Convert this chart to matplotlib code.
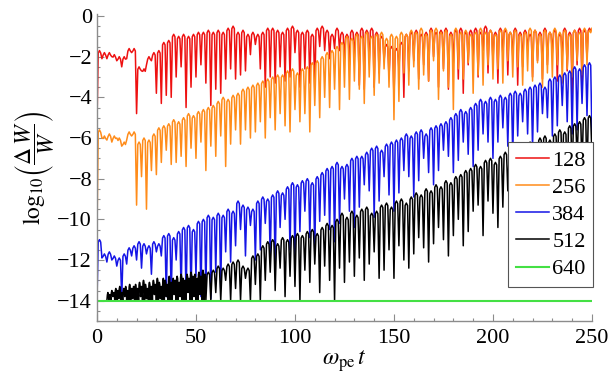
import numpy as np
import matplotlib
matplotlib.use("Agg")
import matplotlib.pyplot as plt

plt.rcParams['font.family'] = ['Liberation Serif', 'DejaVu Serif']
plt.rcParams['mathtext.fontset'] = 'stix'

## arch grid: each series is read as one top and one dip per 2.5 time units
dt = 2.5
labels = ['128', '256', '384', '512', '640']
colors = ['#ee1111', '#ff8c1a', '#1515e6', '#000000', '#44e044']

red_start = -5.3
red_top = [-1.7, -1.8, -1.8, -1.9, -2.0, -2.0, -1.6, -1.6, -2.5, -2.6,
           -2.0, -1.8, -1.7, -1.3, -1.2, -0.9, -1.0, -0.9, -1.0, -0.9,
           -0.8, -0.8, -0.7, -0.8, -0.7, -0.8, -0.6, -0.5, -0.8, -0.7,
           -0.9, -0.8, -0.9, -0.8, -0.6, -0.6, -0.7, -0.8, -0.6, -0.5,
           -0.7, -0.8, -0.7, -0.9, -0.6, -0.5, -0.7, -0.9, -0.6, -0.8,
           -0.9, -0.7, -0.8, -0.6, -0.7, -0.6, -0.8, -1.0, -1.4, -1.5,
           -1.6, -1.3, -0.9, -0.8, -0.7, -0.9, -0.8, -0.6, -0.8, -0.7,
           -0.6, -0.8, -0.7, -0.6, -0.8, -0.7, -0.6, -0.8, -0.5, -0.7,
           -0.8, -0.6, -0.7, -0.8, -0.6, -0.8, -0.7, -0.9, -0.7, -0.8,
           -0.6, -0.8, -0.7, -0.9, -0.6, -0.8, -0.7, -0.6, -0.7, -0.6]
red_dip = [-2.1, -2.1, -2.0, -2.2, -2.5, -2.1, -1.8, -4.8, -2.7, -2.4,
           -2.2, -3.8, -4.3, -3.9, -4.0, -3.0, -2.5, -4.5, -3.5, -3.0,
           -2.4, -3.3, -4.4, -3.6, -3.8, -3.1, -2.6, -3.1, -2.9, -2.7,
           -1.9, -1.4, -2.6, -3.5, -3.0, -3.3, -2.5, -3.2, -3.0, -1.8,
           -3.5, -2.6, -3.3, -3.6, -1.5, -1.7, -2.1, -1.6, -1.7, -2.1,
           -2.4, -2.0, -3.4, -3.6, -2.3, -3.5, -2.8, -2.2, -3.0, -4.0,
           -2.6, -4.0, -2.7, -2.2, -3.1, -2.4, -3.2, -2.0, -3.5, -2.6,
           -3.6, -2.3, -3.1, -3.8, -2.4, -2.0, -3.0, -1.7, -2.8, -2.2,
           -3.3, -1.9, -2.9, -2.0, -3.4, -2.5, -1.6, -3.0, -2.2, -3.1,
           -2.4, -1.8, -3.2, -2.0, -2.7, -3.8, -2.4, -3.6, -2.1, -0.7]

orange_start = -10.7
orange_top = [-5.6, -5.9, -5.8, -5.9, -6.0, -6.2, -5.7, -5.7, -6.2, -6.0,
              -6.1, -5.8, -5.5, -5.4, -5.3, -5.1, -5.2, -5.0, -4.8, -4.9,
              -4.7, -4.6, -4.5, -4.4, -4.2, -4.0, -4.1, -3.9, -3.8, -3.6,
              -3.5, -3.4, -3.3, -3.2, -3.1, -3.0, -2.9, -2.9, -2.7, -2.6,
              -2.8, -2.6, -2.5, -2.3, -2.2, -2.0, -1.8, -1.7, -1.5, -1.3,
              -1.0, -1.1, -0.9, -1.0, -0.8, -1.0, -0.9, -0.8, -1.1, -0.9,
              -1.0, -0.8, -0.9, -0.7, -0.8, -0.6, -0.9, -0.7, -0.6, -0.8,
              -0.7, -0.9, -0.6, -0.8, -0.7, -0.9, -0.8, -0.6, -0.8, -0.7,
              -0.9, -0.7, -0.6, -0.8, -0.7, -0.9, -0.8, -0.6, -0.7, -0.9,
              -0.7, -0.8, -0.6, -0.8, -0.7, -0.9, -0.7, -0.8, -0.6, -0.7]
orange_dip = [-6.0, -6.1, -6.2, -6.0, -6.4, -6.1, -5.9, -9.3, -7.9, -9.5,
              -7.6, -7.8, -7.2, -6.6, -7.3, -7.2, -6.9, -7.4, -6.5, -7.0,
              -6.2, -7.6, -6.4, -6.9, -5.9, -7.4, -6.3, -5.6, -6.3, -5.6,
              -6.0, -5.7, -5.2, -6.0, -5.0, -5.6, -4.8, -5.4, -5.7, -4.6,
              -5.2, -4.8, -5.7, -4.4, -5.0, -4.0, -4.5, -3.6, -4.6, -3.5,
              -4.1, -3.2, -3.6, -4.3, -3.0, -3.9, -3.3, -2.6, -3.5, -5.1,
              -4.2, -2.8, -3.4, -2.5, -3.6, -2.9, -3.2, -2.2, -4.1, -2.7,
              -3.5, -4.6, -2.6, -3.1, -2.3, -3.8, -2.9, -3.4, -2.4, -3.1,
              -2.6, -3.3, -2.2, -3.0, -2.5, -3.4, -2.7, -3.2, -2.3, -3.5,
              -2.8, -3.0, -2.4, -3.3, -2.6, -3.0, -2.2, -2.9, -2.4, -0.6]

blue_start = -14.0
blue_top = [-11.0, -11.7, -11.6, -11.8, -11.9, -11.7, -11.4, -11.3, -11.1, -11.2,
            -11.3, -11.1, -11.2, -10.8, -10.7, -10.9, -10.6, -10.4, -10.3, -10.5,
            -10.1, -10.0, -9.8, -9.9, -9.7, -9.8, -9.5, -9.6, -9.1, -9.3,
            -9.4, -9.5, -9.1, -8.9, -9.0, -8.8, -8.6, -8.7, -8.4, -8.2,
            -8.3, -8.1, -8.0, -8.2, -7.9, -7.7, -7.5, -7.4, -7.2, -7.4,
            -7.3, -7.0, -6.9, -6.9, -6.7, -6.5, -6.4, -6.6, -6.3, -6.2,
            -6.1, -6.0, -5.8, -5.9, -5.7, -5.6, -5.8, -5.5, -5.4, -5.3,
            -5.2, -5.0, -4.8, -4.6, -4.7, -4.5, -4.3, -4.1, -4.2, -4.0,
            -4.1, -3.9, -4.0, -3.8, -3.7, -3.8, -3.6, -3.5, -3.4, -3.3,
            -3.5, -3.1, -3.0, -2.9, -2.8, -2.7, -2.5, -2.6, -2.4, -2.3]
blue_dip = [-11.9, -12.1, -12.0, -12.3, -13.9, -12.2, -11.8, -12.0, -12.4, -11.7,
            -12.7, -11.6, -11.8, -13.8, -13.8, -12.0, -13.6, -13.9, -13.7, -12.8,
            -13.8, -13.5, -13.9, -12.6, -13.4, -11.6, -12.1, -11.3, -10.5, -11.8,
            -10.3, -12.0, -11.5, -10.2, -11.9, -12.3, -10.4, -10.0, -11.5, -11.8,
            -10.6, -9.6, -10.9, -11.6, -10.1, -9.8, -10.5, -11.1, -10.2, -9.0,
            -9.6, -10.4, -9.4, -8.3, -8.6, -9.9, -9.1, -7.9, -8.8, -9.6,
            -8.7, -7.6, -7.9, -8.9, -8.1, -7.0, -7.7, -8.3, -7.6, -6.6,
            -6.9, -7.7, -7.1, -6.2, -6.8, -7.4, -6.6, -5.8, -6.2, -7.0,
            -6.2, -5.5, -6.4, -6.9, -5.9, -5.2, -5.8, -6.5, -5.7, -4.8,
            -5.0, -5.9, -5.4, -4.4, -5.2, -5.8, -5.6, -4.3, -4.9, -6.0]

## black: fast part (1 unit per arch) from t=5, then slow part from t=55
black_start_t = 5.0
black_start = -14.0
black_fast_top = [-13.6, -13.7, -13.5, -13.6,
                  -13.4, -13.5, -13.3, -13.6, -13.4, -13.3, -13.5, -13.2, -13.4, -13.3,
                  -13.2, -13.4, -13.1, -13.3, -13.0, -13.2, -13.4, -13.1, -13.3, -13.0,
                  -13.2, -12.9, -13.1, -13.3, -12.9, -13.0, -13.2, -12.8, -13.1, -12.9,
                  -13.0, -12.8, -13.1, -12.7, -12.9, -13.0, -12.7, -12.9, -12.6, -12.8,
                  -12.7, -12.9, -12.6, -12.8, -12.5, -12.7]
black_fast_dip = [-14.0, -14.0, -13.8, -14.0,
                  -14.0, -13.9, -14.0, -14.0, -13.8, -14.0, -14.0, -14.0, -13.9, -14.0,
                  -14.0, -14.0, -13.8, -14.0, -14.0, -13.9, -14.0, -14.0, -14.0, -13.7,
                  -14.0, -14.0, -13.9, -14.0, -14.0, -13.8, -14.0, -14.0, -14.0, -13.7,
                  -14.0, -14.0, -13.8, -14.0, -14.0, -14.0, -13.6, -14.0, -14.0, -13.8,
                  -14.0, -14.0, -13.7, -14.0, -14.0, -14.0]
black_top = [-12.6, -12.5, -12.3, -12.4, -12.2, -12.1, -12.0, -12.3, -12.4, -11.8,
             -11.7, -11.3, -11.1, -11.0, -11.2, -10.9, -11.0, -10.8, -10.7, -10.8,
             -10.6, -10.5, -10.7, -10.4, -10.2, -10.3, -10.0, -9.7, -9.9, -9.6,
             -9.8, -9.5, -9.4, -9.7, -9.6, -9.3, -9.2, -9.4, -9.1, -9.0,
             -9.2, -8.9, -8.7, -8.8, -8.5, -8.6, -8.3, -8.4, -8.1, -8.2,
             -7.9, -7.8, -7.6, -7.5, -7.3, -7.4, -7.1, -7.0, -7.2, -6.9,
             -6.7, -6.8, -6.5, -6.6, -6.4, -6.2, -6.3, -6.0, -5.9, -6.1,
             -5.8, -5.6, -5.7, -5.4, -5.3, -5.2, -5.0, -4.9]
black_dip = [-14.0, -13.6, -14.0, -13.0, -14.0, -13.4, -14.0, -12.9, -14.0, -13.2,
             -14.0, -13.0, -12.6, -13.5, -12.4, -13.8, -12.8, -13.3, -14.0, -12.5,
             -13.1, -12.2, -13.6, -12.3, -13.0, -14.0, -12.4, -13.1, -12.1, -12.8,
             -11.9, -13.0, -12.2, -11.6, -12.9, -12.5, -11.5, -12.9, -11.3, -12.0,
             -12.4, -11.7, -10.9, -11.4, -12.1, -11.2, -10.4, -11.0, -11.8, -10.8,
             -10.0, -11.3, -10.6, -9.6, -9.3, -10.8, -9.1, -9.7, -10.4, -9.4,
             -8.6, -9.9, -8.3, -8.9, -9.6, -8.7, -7.9, -8.5, -9.1, -8.2,
             -7.4, -8.0, -8.6, -7.8, -7.0, -7.5, -8.0, -6.8]

green_t = [0.0, 250.0]
green_val = [-14.0, -14.0]


def arches(t0, step, tops, dips):
    ## rounded arch between two sharp dips
    ts, vs = [], []
    for k, (a, b) in enumerate(zip(tops, dips)):
        s = t0 + k*step
        ts += [s + 0.25*step, s + 0.5*step, s + 0.75*step, s + step]
        vs += [a - 0.12, a, a - 0.12, b]
    return ts, vs


fig = plt.figure(figsize=(6.08, 3.74), dpi=100)
ax = fig.add_axes([0.1595, 0.1417, 0.8141, 0.8209])

for start, tops, dips, c, lab in [(red_start, red_top, red_dip, colors[0], labels[0]),
                                  (orange_start, orange_top, orange_dip, colors[1], labels[1]),
                                  (blue_start, blue_top, blue_dip, colors[2], labels[2])]:
    ts, vs = arches(0.0, dt, tops, dips)
    ax.plot([0.0] + ts, [start] + vs, color=c, lw=1.1, label=lab)

t1, v1 = arches(black_start_t, 1.0, black_fast_top, black_fast_dip)
t2, v2 = arches(black_start_t + len(black_fast_top), dt, black_top, black_dip)
ax.plot([black_start_t] + t1 + t2, [black_start] + v1 + v2,
        color=colors[3], lw=1.1, label=labels[3])
ax.plot(green_t, green_val, color=colors[4], lw=1.5, label=labels[4])

ax.set_xlim(0, 250)
ax.set_ylim(-15, 0.1)
ax.set_xticks(np.arange(0, 251, 50))
ax.set_xticks(np.arange(0, 251, 10), minor=True)
ax.set_yticks(np.arange(-14, 1, 2))
ax.set_yticks(np.arange(-15, 0.01, 0.5), minor=True)
ax.set_yticklabels(['\u2212%d' % abs(v) if v != 0 else '0' for v in range(-14, 1, 2)])

for s in ['top', 'right']:
    ax.spines[s].set_visible(False)
for s in ['left', 'bottom']:
    ax.spines[s].set_color('#8c8c8c')
    ax.spines[s].set_linewidth(1.0)
ax.tick_params(which='both', direction='in', color='#8c8c8c', labelsize=16, width=0.8)
ax.tick_params(which='major', length=5)
ax.tick_params(which='minor', length=2.5)
ax.tick_params(axis='x', pad=6)

ax.set_xlabel(r'$\omega_{\rm pe}\,t$', fontsize=17, labelpad=0)
ax.set_ylabel(r'$\log_{10}\!\left(\dfrac{\Delta\,W}{W}\right)$', fontsize=17, labelpad=0)

leg = ax.legend(loc='lower right', bbox_to_anchor=(1.003, 0.11), fontsize=16,
                frameon=True, fancybox=False, edgecolor='#555555', framealpha=1.0,
                handlelength=1.5, handletextpad=0.15, labelspacing=0.3,
                borderpad=0.35, borderaxespad=0.0)
leg.get_frame().set_linewidth(0.8)

fig.savefig('out.png', dpi=100)
